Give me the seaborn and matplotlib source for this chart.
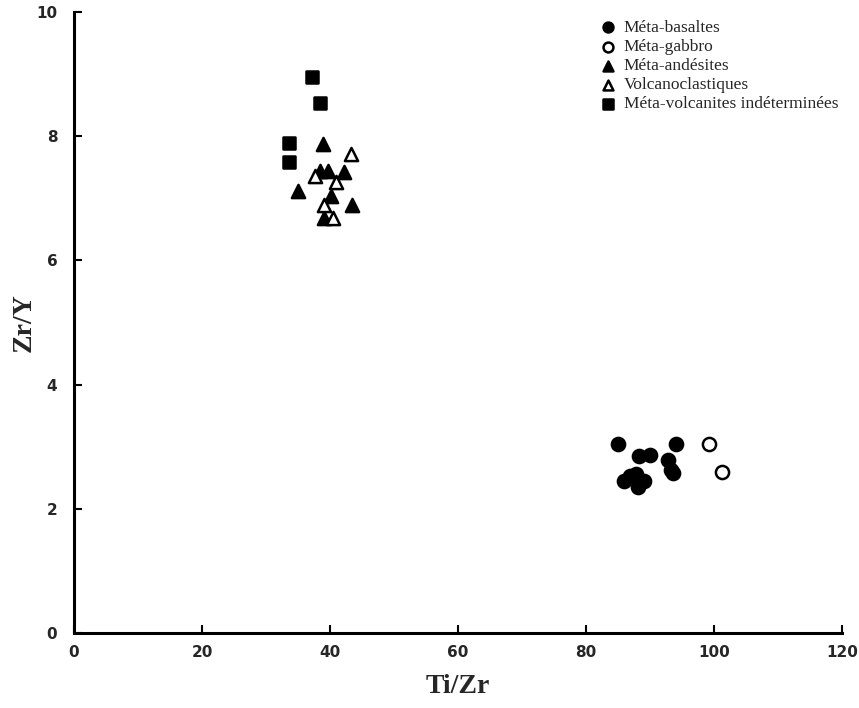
import matplotlib
matplotlib.use("Agg")
import matplotlib.pyplot as plt
import seaborn as sns
import pandas as pd

sns.set_style("white")
plt.rcParams['font.family'] = ['DejaVu Sans']
plt.rcParams['xtick.direction'] = 'in'
plt.rcParams['ytick.direction'] = 'in'

# ---- data (Ti/Zr, Zr/Y) ----
basaltes_x = [85.0, 88.3, 90.0, 94.0, 92.9, 93.3, 93.6, 86.9, 85.9, 87.8, 88.2, 89.0]
basaltes_y = [3.04, 2.85, 2.86, 3.04, 2.78, 2.62, 2.58, 2.52, 2.45, 2.56, 2.35, 2.45]
gabbro_x = [99.2, 101.3]
gabbro_y = [3.04, 2.59]
andesites_x = [38.9, 38.4, 39.7, 42.2, 35.0, 40.1, 43.5, 39.1]
andesites_y = [7.88, 7.44, 7.44, 7.43, 7.11, 7.03, 6.89, 6.69]
volcano_x = [43.3, 37.7, 41.0, 39.0, 40.4]
volcano_y = [7.72, 7.36, 7.27, 6.90, 6.69]
indet_x = [37.2, 38.4, 33.6, 33.6]
indet_y = [8.95, 8.53, 7.89, 7.59]

labels = ["Méta-basaltes", "Méta-gabbro", "Méta-andésites",
          "Volcanoclastiques", "Méta-volcanites indéterminées"]
xticks = [0, 20, 40, 60, 80, 100, 120]
yticks = [0, 2, 4, 6, 8, 10]

groups = [
    (basaltes_x, basaltes_y, labels[0], "o", "black"),
    (gabbro_x, gabbro_y, labels[1], "o", "white"),
    (andesites_x, andesites_y, labels[2], "^", "black"),
    (volcano_x, volcano_y, labels[3], "^", "white"),
    (indet_x, indet_y, labels[4], "s", "black"),
]

fig = plt.figure(figsize=(8.59, 7.08), dpi=100)
ax = fig.add_axes([0.0861, 0.106, 0.894, 0.877])

for gx, gy, lab, mk, fc in groups:
    df = pd.DataFrame({"Ti/Zr": gx, "Zr/Y": gy})
    sns.scatterplot(data=df, x="Ti/Zr", y="Zr/Y", ax=ax, marker=mk,
                    s=90 if mk != "s" else 75, color=fc, edgecolor="black",
                    linewidth=1.8, label=lab, zorder=3)

ax.set_xlim(0, 120)
ax.set_ylim(0, 10)
ax.set_xticks(xticks)
ax.set_yticks(yticks)
for s in ["top", "right"]:
    ax.spines[s].set_visible(False)
for s in ["left", "bottom"]:
    ax.spines[s].set_linewidth(2.2)
    ax.spines[s].set_color("black")
ax.tick_params(bottom=True, left=True, top=False, right=False,
               direction="in", length=6, width=1.5, color="black")
ax.tick_params(axis="x", pad=9)
ax.tick_params(axis="y", pad=12)
for t in ax.get_xticklabels() + ax.get_yticklabels():
    t.set_fontweight("heavy")
    t.set_fontsize(11)

ax.set_xlabel("Ti/Zr", fontsize=20, fontweight="bold",
              family=["Liberation Serif"], labelpad=10)
ax.set_ylabel("Zr/Y", fontsize=20, fontweight="bold",
              family=["Liberation Serif"], labelpad=0)

leg = ax.legend(loc="upper right", frameon=False,
                prop={"family": "Liberation Serif", "size": 12.5},
                labelspacing=0.17, handletextpad=0.4, borderaxespad=0.0,
                borderpad=0.2, bbox_to_anchor=(1.0, 0.993), handlelength=1.0,
                markerscale=0.75)

fig.savefig("out.png", dpi=100)
